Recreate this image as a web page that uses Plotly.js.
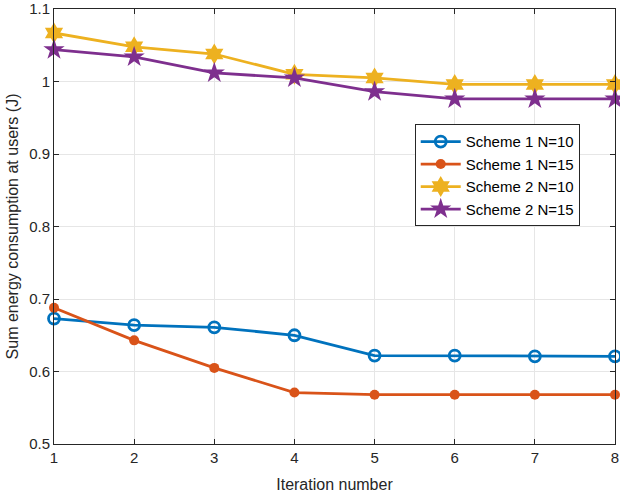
<!DOCTYPE html>
<html><head><meta charset="utf-8">
<script src="https://cdn.plot.ly/plotly-3.0.1.min.js"></script>
<style>html,body{margin:0;padding:0;background:#fff}#c{width:620px;height:494px}</style>
</head><body><div id="c"></div>
<script>
const iterations = [1, 2, 3, 4, 5, 6, 7, 8];
const scheme1N10 = [0.673, 0.664, 0.661, 0.650, 0.622, 0.622, 0.621, 0.621];
const scheme1N15 = [0.688, 0.643, 0.605, 0.571, 0.568, 0.568, 0.568, 0.568];
const scheme2N10 = [1.067, 1.048, 1.038, 1.010, 1.005, 0.996, 0.996, 0.996];
const scheme2N15 = [1.044, 1.034, 1.012, 1.005, 0.986, 0.976, 0.976, 0.976];
const yTicks = [0.5, 0.6, 0.7, 0.8, 0.9, 1, 1.1];
const yTickText = ['0.5', '0.6', '0.7', '0.8', '0.9', '1', '1.1'];
const names = ['Scheme 1 N=10', 'Scheme 1 N=15', 'Scheme 2 N=10', 'Scheme 2 N=15'];
const colors = ['#0072BD', '#D95319', '#EDB120', '#7E2F8E'];
const symbols = ['circle-open', 'circle', 'hexagram', 'star'];
const sizes = [11, 10, 16, 16];
const series = [scheme1N10, scheme1N15, scheme2N10, scheme2N15];
const traces = series.map((y, i) => ({
  x: iterations, y: y, name: names[i], type: 'scatter', mode: 'lines+markers', cliponaxis: false,
  line: {color: colors[i], width: 2.8},
  marker: {symbol: symbols[i], size: sizes[i], color: colors[i], line: {color: colors[i], width: i === 0 ? 2.8 : 0}}
}));
const axisCommon = {
  showline: true, mirror: 'ticks', linecolor: '#262626', linewidth: 1,
  ticks: 'inside', ticklen: 5, tickcolor: '#262626', ticklabeloverflow: 'allow',
  showgrid: true, gridcolor: '#e6e6e6', gridwidth: 1, zeroline: false,
  tickfont: {family: 'Liberation Sans, Arial, sans-serif', size: 15, color: '#262626'}
};
const layout = {
  width: 620, height: 494,
  margin: {l: 54, r: 5, t: 9, b: 50},
  paper_bgcolor: '#fff', plot_bgcolor: '#fff',
  font: {family: 'Liberation Sans, Arial, sans-serif', color: '#262626'},
  xaxis: Object.assign({}, axisCommon, {range: [1, 8], tickvals: iterations,
    title: {text: 'Iteration number', font: {size: 16, color: '#262626'}, standoff: 13}}),
  yaxis: Object.assign({}, axisCommon, {range: [0.5, 1.1001],
    tickvals: yTicks, ticktext: yTickText,
    title: {text: 'Sum energy consumption at users (J)', font: {size: 16, color: '#262626'}, standoff: 6}}),
  showlegend: true,
  legend: {x: 0.643, y: 0.735, xanchor: 'left', yanchor: 'top', bgcolor: '#fff',
    bordercolor: '#262626', borderwidth: 1, font: {size: 15, color: '#000'},
    tracegroupgap: 0, itemwidth: 40}
};
Plotly.newPlot('c', traces, layout, {displayModeBar: false, staticPlot: true});
</script></body></html>
